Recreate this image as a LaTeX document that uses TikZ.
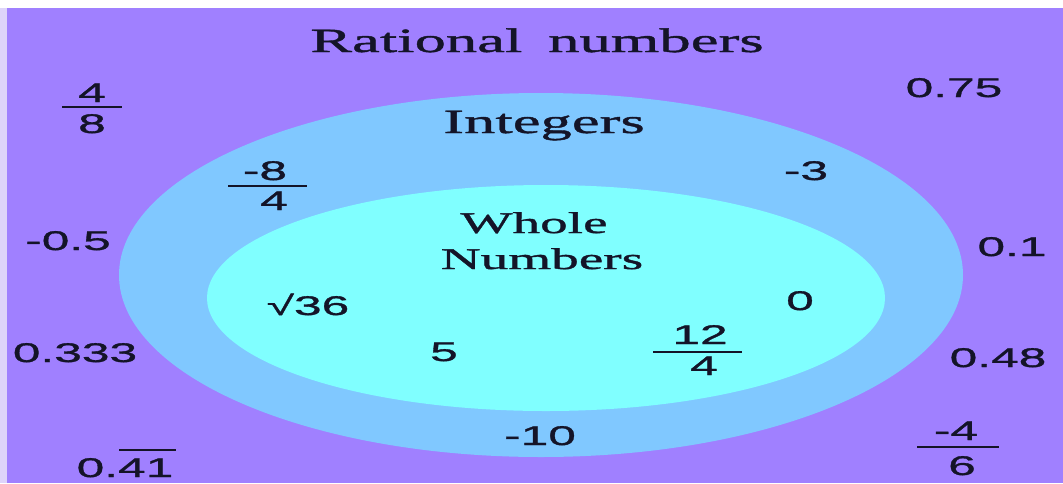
\documentclass[tikz,border=0pt]{standalone}
\usepackage{fontspec}
\setmainfont{Liberation Serif}[FakeStretch=1.84,FakeBold=1.2]
\newfontfamily\numf{Liberation Sans}[FakeStretch=1.84,FakeBold=1.2]
\definecolor{bgpurple}{RGB}{160,128,255}
\definecolor{intblue}{RGB}{128,200,255}
\definecolor{wholecyan}{RGB}{128,255,255}
\definecolor{edgelav}{RGB}{222,212,250}
\definecolor{ink}{RGB}{20,20,40}
\begin{document}
\begin{tikzpicture}[x=1pt,y=-1pt,
  lbl/.style={font=\fontsize{34}{34}\selectfont, text=ink, inner sep=0pt, anchor=base},
  sublbl/.style={font=\fontsize{30}{30}\selectfont, text=ink, inner sep=0pt, anchor=base},
  num/.style={font=\numf\fontsize{27}{27}\selectfont, text=ink, inner sep=0pt, anchor=base},
  fracbar/.style={draw=ink, line width=2.5pt}]
\useasboundingbox (0,0) rectangle (1063,483);
\fill[white] (0,0) rectangle (1063,483);
\fill[edgelav] (0,8) rectangle (7,483);
\fill[bgpurple] (7,8) rectangle (1063,483);
\fill[intblue] (541,275) ellipse [x radius=422, y radius=182];
\fill[wholecyan] (546,298) ellipse [x radius=339, y radius=113];
% set labels
\node[lbl] (rat) at (537,52) {Rational\hspace{0.3em} numbers};
\node[lbl] (int) at (544,133) {Integers};
\node[sublbl] (wh1) at (534,233) {Whole};
\node[sublbl] (wh2) at (542,269) {Numbers};
% numbers outside
\node[num] (a48n) at (92,102) {4};
\draw[fracbar] (62,107) -- (122,107);
\node[num] (a48d) at (92,133) {8};
\node[num] (n075) at (954,97) {0.75};
\node[num] (nm05) at (68,250) {-0.5};
\node[num] (n01) at (1012,256) {0.1};
\node[num] (n0333) at (75,362) {0.333};
\node[num] (n048) at (998,367) {0.48};
\node[num] (n041) at (125,477) {0.41};
\draw[fracbar] (119,450) -- (176,450);
\node[num] (a46n) at (956,440) {-4};
\draw[fracbar] (917,447) -- (999,447);
\node[num] (a46d) at (962,475) {6};
% integers
\node[num] (a84n) at (265,180) {-8};
\draw[fracbar] (228,186) -- (307,186);
\node[num] (a84d) at (274,210) {4};
\node[num] (nm3) at (806,180) {-3};
\node[num] (nm10) at (540,445) {-10};
% whole numbers
\node[num] (sq36) at (308,315) {√36};
\node[num] (n0) at (800,310) {0};
\node[num] (n5) at (444,361) {5};
\node[num] (a124n) at (700,344) {12};
\draw[fracbar] (653,352) -- (742,352);
\node[num] (a124d) at (704,375) {4};
\end{tikzpicture}
\end{document}
